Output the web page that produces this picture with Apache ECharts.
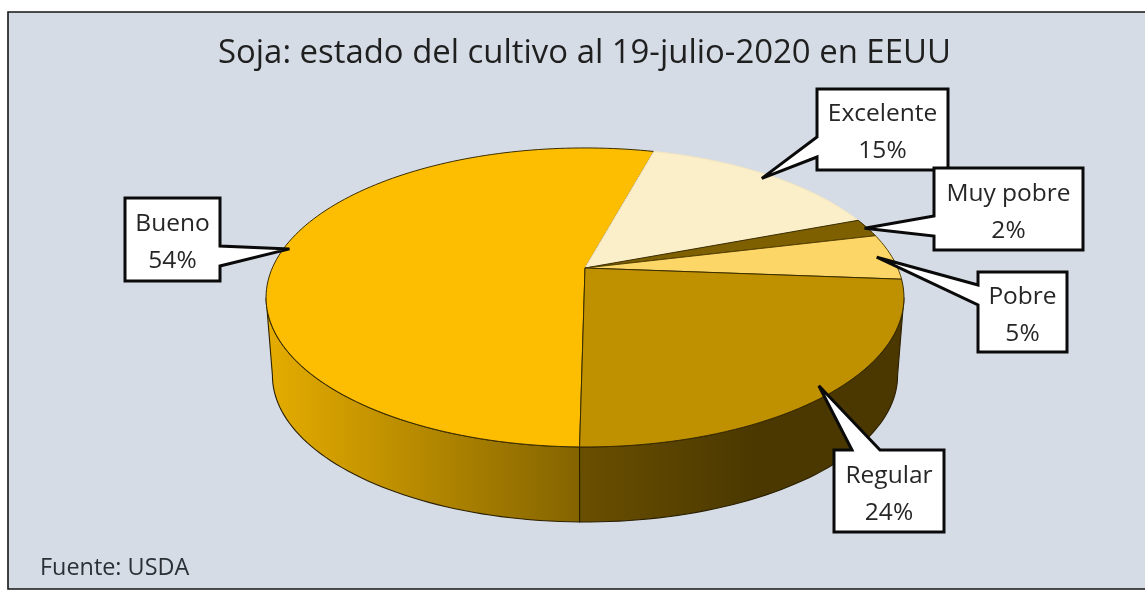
<!DOCTYPE html>
<html><head><meta charset="utf-8">
<style>html,body{margin:0;padding:0;background:#fff}#c{width:1145px;height:590px}</style>
<script src="https://cdn.jsdelivr.net/npm/echarts@6/dist/echarts.min.js"></script>
</head><body><div id="c"></div>
<script>
const titleText = 'Soja: estado del cultivo al 19-julio-2020 en EEUU';
const sourceText = 'Fuente: USDA';
const categories = ['Bueno', 'Excelente', 'Muy pobre', 'Pobre', 'Regular'];
const values = [54, 15, 2, 5, 24];

const topColors = ['#FDBD00', '#FBEFC9', '#7F6000', '#FCD666', '#BF9000'];
const edgeColors = ['#3a2c00', '#F3E6C0', '#3a2c00', '#5a4400', '#3a2c00'];

// projection of the tilted disc
const geo = { cx: 585, cy: 268, ax: 312.7, ay: 143.7, persp: -0.197, depth: 78.6, shrink: 0.98, start: 0.8, silhouette: 78.6 };

// callout boxes: x0,y0,x1,y1, edge carrying the pointer, pointer base a..b on that edge, tip radius
const callouts = [
  { box: [125, 198, 220, 281], edge: 'right', base: [246, 266], tip: 0.98 },
  { box: [817, 89, 948, 170], edge: 'left', base: [137, 157], tip: 0.96 },
  { box: [934, 168, 1083, 250], edge: 'left', base: [216, 236], tip: 0.99 },
  { box: [978, 272, 1067, 352], edge: 'left', base: [285, 305], tip: 0.95 },
  { box: [834, 450, 944, 532], edge: 'top', base: [852, 880], tip: 0.955 }
];

const total = values.reduce((a, b) => a + b, 0);
const spans = [];
values.reduce((acc, v) => { const end = acc + v / total * 360; spans.push([acc, end]); return end; }, geo.start);

function project(theta, f) {
  const r = theta * Math.PI / 180;
  const u = -f * Math.sin(r), v = f * Math.cos(r);
  const d = 1 + geo.persp * v;
  return [geo.cx + geo.ax * u / d, geo.cy + geo.ay * v / d];
}
function lower(p) {
  return [geo.cx + (p[0] - geo.cx) * geo.shrink, geo.cy + (p[1] - geo.cy) * geo.shrink + geo.depth];
}
function arc(a, b) {
  const n = Math.max(2, Math.ceil(Math.abs(b - a) / 1.5));
  const pts = [];
  for (let i = 0; i <= n; i++) pts.push(project(a + (b - a) * i / n, 1));
  return pts;
}
function visibleRange(a, b) {
  const s = geo.silhouette;
  for (const [lo, hi] of [[-s, s], [360 - s, 360 + s]]) {
    const x = Math.max(a, lo), y = Math.min(b, hi);
    if (y > x) return [x, y];
  }
  return null;
}

const sideFills = [
  new echarts.graphic.LinearGradient(0, 0, 1, 0, [{ offset: 0, color: '#E6AD00' }, { offset: 1, color: '#846400' }]),
  null, null, null,
  new echarts.graphic.LinearGradient(0, 0, 1, 0, [{ offset: 0, color: '#6A4F00' }, { offset: 0.55, color: '#4A3800' }, { offset: 1, color: '#4A3800' }])
];

function renderSide(params, api) {
  const i = params.dataIndex;
  const range = visibleRange(spans[i][0], spans[i][1]);
  if (!range || !sideFills[i]) return { type: 'group', children: [] };
  const top = arc(range[0], range[1]);
  const bottom = top.map(lower).reverse();
  return {
    type: 'polygon',
    shape: { points: top.concat(bottom) },
    style: { fill: sideFills[i], stroke: '#2a1f00', lineWidth: 1.1 }
  };
}
function renderTop(params, api) {
  const i = params.dataIndex;
  const pts = [[geo.cx, geo.cy]].concat(arc(spans[i][0], spans[i][1]));
  return {
    type: 'polygon',
    shape: { points: pts },
    style: { fill: topColors[i], stroke: edgeColors[i], lineWidth: 1 }
  };
}
function renderCallout(params, api) {
  const i = params.dataIndex;
  const c = callouts[i];
  const [x0, y0, x1, y1] = c.box;
  const tip = project((spans[i][0] + spans[i][1]) / 2, c.tip);
  let pts;
  if (c.edge === 'right') pts = [[x0, y0], [x1, y0], [x1, c.base[0]], tip, [x1, c.base[1]], [x1, y1], [x0, y1]];
  else if (c.edge === 'left') pts = [[x0, y0], [x1, y0], [x1, y1], [x0, y1], [x0, c.base[1]], tip, [x0, c.base[0]]];
  else pts = [[x0, y0], [c.base[0], y0], tip, [c.base[1], y0], [x1, y0], [x1, y1], [x0, y1]];
  return {
    type: 'group',
    children: [
      { type: 'polygon', z2: 1, shape: { points: pts }, style: { fill: '#fff', stroke: '#0a0a0a', lineWidth: 3, lineJoin: 'miter', miterLimit: 3 } },
      { type: 'text', z2: 2, style: {
          x: (x0 + x1) / 2, y: (y0 + y1) / 2 + 3.5,
          text: categories[i] + '\n' + api.value(1) + '%',
          font: '24.5px "Open Sans"', lineHeight: 37, fill: '#262626', align: 'center', verticalAlign: 'middle'
      } }
    ]
  };
}

const seriesData = categories.map((name, i) => ({ name, value: [i, values[i]] }));
const chart = echarts.init(document.getElementById('c'), null, { renderer: 'canvas' });
chart.setOption({
  animation: false,
  backgroundColor: '#ffffff',
  graphic: [{ type: 'rect', z: -1, shape: { x: 8, y: 12, width: 1150, height: 577 },
    style: { fill: '#D6DCE5', stroke: '#151515', lineWidth: 1.6 } }],
  title: [
    { text: titleText, left: 218, top: 37, padding: 0, textStyle: { fontFamily: 'Open Sans', fontSize: 32.9, fontWeight: 'normal', color: '#1f1f1f' } },
    { text: sourceText, left: 40, top: 557, padding: 0, textStyle: { fontFamily: 'Open Sans', fontSize: 23.4, fontWeight: 'normal', color: '#2b2f36' } }
  ],
  series: [
    { type: 'custom', coordinateSystem: 'none', z: 2, silent: true, renderItem: renderSide, data: seriesData },
    { type: 'custom', coordinateSystem: 'none', z: 3, silent: true, renderItem: renderTop, data: seriesData },
    { type: 'custom', coordinateSystem: 'none', z: 4, silent: true, renderItem: renderCallout, data: seriesData }
  ]
});
</script></body></html>
